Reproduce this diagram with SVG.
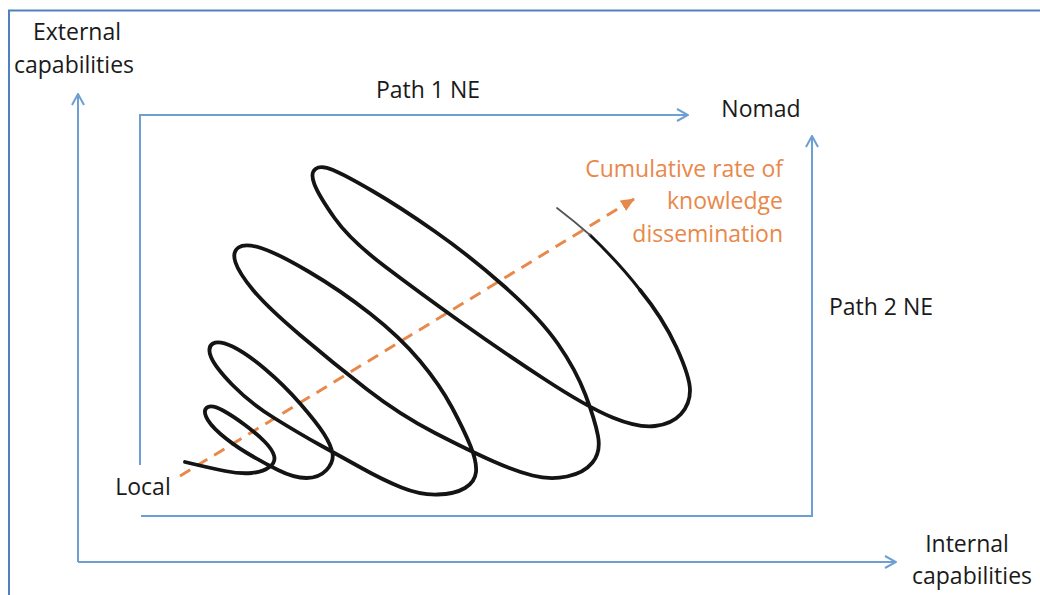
<svg xmlns="http://www.w3.org/2000/svg" width="1040" height="595" viewBox="0 0 1040 595">
<defs>
<style>
.lbl{font-family:"Open Sans","Liberation Sans",sans-serif;font-size:23px;fill:#1a1a1a}
.org{fill:#E8884A}
.blue{stroke:#6E9FD3;stroke-width:2;fill:none}
.spiral{fill:none;stroke:#141414;stroke-width:3.8;stroke-linecap:round;stroke-linejoin:round}
</style>
<marker id="open" markerUnits="userSpaceOnUse" markerWidth="14" markerHeight="14" viewBox="0 0 14 14" refX="13" refY="7" orient="auto">
<path d="M2,1 L13,7 L2,13" fill="none" stroke="#6E9FD3" stroke-width="2"/>
</marker>
<marker id="tri" markerUnits="userSpaceOnUse" markerWidth="14" markerHeight="12" viewBox="0 0 14 12" refX="13" refY="6" orient="auto">
<path d="M0,0 L14,6 L0,12 z" fill="#E8884A"/>
</marker>
</defs>
<rect width="1040" height="595" fill="#ffffff"/>
<rect x="9" y="10.5" width="1040" height="600" fill="none" stroke="#4F81BD" stroke-width="2"/>

<g id="connectors">
<path class="blue" d="M78,562 L78,94" marker-end="url(#open)"/>
<path class="blue" d="M78,562 L896,562" marker-end="url(#open)"/>
<path class="blue" d="M140,465 L140,115 L688,115" marker-end="url(#open)"/>
<path class="blue" d="M141,516 L812,516 L812,136" marker-end="url(#open)"/>
<path d="M180,476 L634,199" fill="none" stroke="#E8884A" stroke-width="3" stroke-dasharray="12 8" marker-end="url(#tri)"/>
</g>

<g id="spiral">
<path class="spiral" d="M185,462 Q210,468 225,471 T251.5,473 T269.5,467 T274,455.5 T264.5,441.5 T245,425 T223,410.5 T208,407 T206,416.5 T220.5,434 T247,453 T278,470 T306.5,478 T326.5,470 T332.5,453.5 T324,434 T300.5,404 T265,369 T232.5,346.5 T213,343.5 T211,357 T232.5,385 T275,418.5 T320,445 T361.5,468 T401.5,487.5 T437.5,494.5 T465,488 T476,472 T470.5,446 T452,407.5 T420,361 T370,313.5 T308.5,271.5 T261,248 T238.5,247.5 T235.5,262.5 T253,290 T300,335 T366.5,389 T435,433 T492.5,461 T532.5,475.5 T567,476.5 T592.5,462.5 T598,436 T585.5,395 T558,344 T505,287 T435,231.5 T372.5,191 T333,170 T315.5,169 T314.5,184.5 T334.5,218 T385,266.5 T460,321.5 T543.5,378.5 T612.5,417.5 T655,426 T681,414 T690,390.5 T676.5,347.5 Q663,318 640,290"/>
<path d="M640,290 Q620,264 590,235" fill="none" stroke="#141414" stroke-width="3" stroke-linecap="round"/>
<path d="M590,235 Q574,221 557,208" fill="none" stroke="#555555" stroke-width="1.8" stroke-linecap="round"/>
</g>

<g id="external">
<text class="lbl" x="77" y="40" text-anchor="middle">External</text>
<text class="lbl" x="74" y="73" text-anchor="middle">capabilities</text>
</g>
<g id="internal">
<text class="lbl" x="967" y="552" text-anchor="middle">Internal</text>
<text class="lbl" x="972" y="584" text-anchor="middle">capabilities</text>
</g>
<g id="path1">
<text class="lbl" x="428" y="98" text-anchor="middle">Path 1 NE</text>
</g>
<g id="path2">
<text class="lbl" x="881" y="315" text-anchor="middle">Path 2 NE</text>
</g>
<g id="nomad">
<text class="lbl" x="761" y="117" text-anchor="middle">Nomad</text>
</g>
<g id="local">
<text class="lbl" x="143" y="495" text-anchor="middle">Local</text>
</g>
<g id="rate">
<text class="lbl org" x="783" y="177" text-anchor="end">Cumulative rate of</text>
<text class="lbl org" x="783" y="209" text-anchor="end">knowledge</text>
<text class="lbl org" x="783" y="242" text-anchor="end">dissemination</text>
</g>
</svg>
